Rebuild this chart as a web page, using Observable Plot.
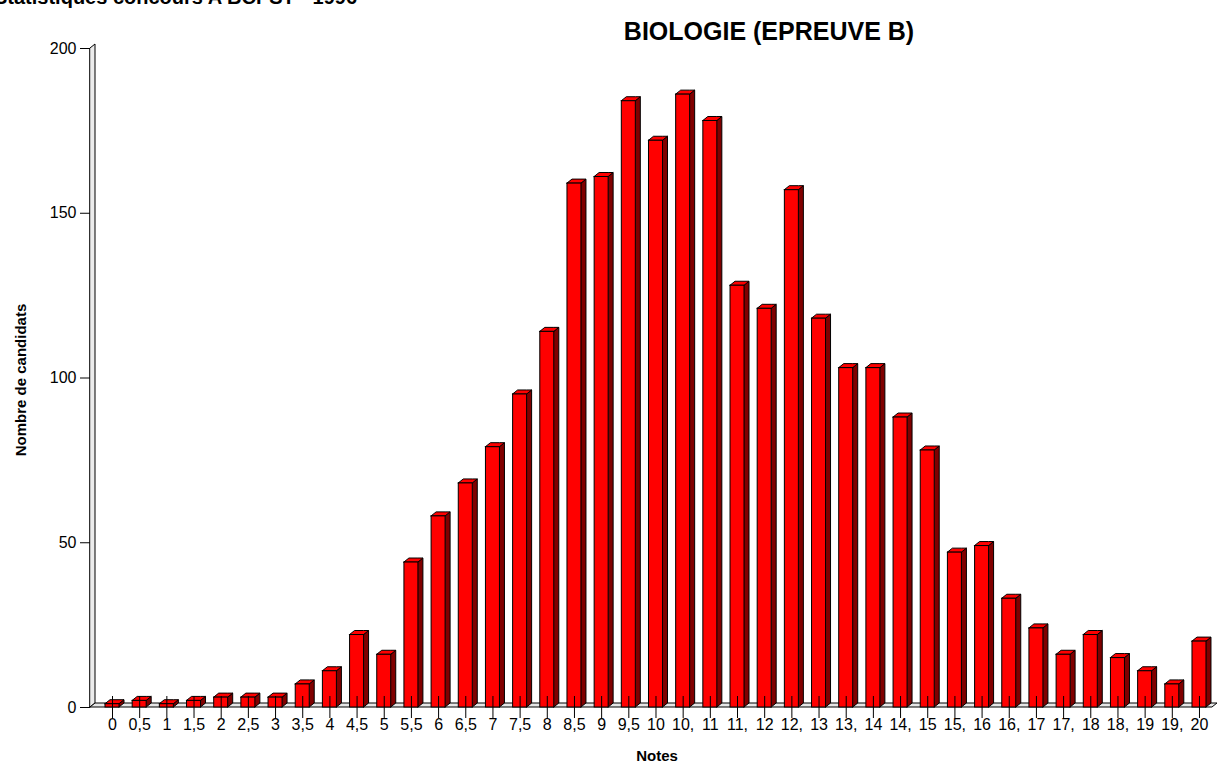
<!DOCTYPE html>
<html><head><meta charset="utf-8">
<script src="https://cdn.jsdelivr.net/npm/d3@7"></script>
<script src="https://cdn.jsdelivr.net/npm/@observablehq/plot@0.6"></script>
<style>
body{margin:0;background:#fff;font-family:"Liberation Sans",Arial,sans-serif;}
#wrap{position:relative;width:1223px;height:762px;overflow:hidden;background:#fff;}
#wrap svg{position:absolute;left:0;top:0;}
.t{position:absolute;white-space:nowrap;color:#000;line-height:1;}
#toptxt{left:-6px;top:-13px;font-size:20px;font-weight:bold;}
#title{left:769px;top:19px;transform:translateX(-50%);font-size:25px;font-weight:bold;}
#ylab{left:20px;top:380px;transform:translate(-50%,-50%) rotate(-90deg);font-size:15px;font-weight:bold;}
#xlab{left:657px;top:755px;transform:translate(-50%,-50%);font-size:15px;font-weight:bold;}
</style></head><body>
<div id="wrap">
<div class="t" id="toptxt">Statistiques concours A BCPST - 1996</div>
<div class="t" id="title">BIOLOGIE (EPREUVE B)</div>
<div class="t" id="ylab">Nombre de candidats</div>
<div class="t" id="xlab">Notes</div>
</div>
<script>
const notes = [0,0.5,1,1.5,2,2.5,3,3.5,4,4.5,5,5.5,6,6.5,7,7.5,8,8.5,9,9.5,10,10.5,11,11.5,12,12.5,13,13.5,14,14.5,15,15.5,16,16.5,17,17.5,18,18.5,19,19.5,20];
const tickLabels = ["0","0,5","1","1,5","2","2,5","3","3,5","4","4,5","5","5,5","6","6,5","7","7,5","8","8,5","9","9,5","10","10,","11","11,","12","12,","13","13,","14","14,","15","15,","16","16,","17","17,","18","18,","19","19,","20"];
const counts = [1,2,1,2,3,3,3,7,11,22,16,44,58,68,79,95,114,159,161,184,172,186,178,128,121,157,118,103,103,88,78,47,49,33,24,16,22,15,11,7,20];
const yTicks = [0,50,100,150,200];

// layout
const W = 1223, H = 762;
const mL = 90, mR = 5, mT = 48, mB = 55;
const xDom = [-0.4048, 20.35];
const yDom = [0, 200];
const kx = (W - mL - mR) / (xDom[1] - xDom[0]);
const ky = (H - mT - mB) / (yDom[1] - yDom[0]);
const hw = 7 / kx;
const dX = 5 / kx;
const dV = 4 / ky;

const bars = notes.map((n, i) => ({id: i, x: n, v: counts[i]}));
const sideFace = bars.flatMap(b => [
  {id: b.id, x: b.x + hw, y1: 0, y2: b.v},
  {id: b.id, x: b.x + hw + dX, y1: dV, y2: b.v + dV}
]);
const topFace = bars.flatMap(b => [
  {id: b.id, x: b.x - hw, y1: b.v, y2: b.v},
  {id: b.id, x: b.x - hw + dX, y1: b.v, y2: b.v + dV},
  {id: b.id, x: b.x + hw, y1: b.v, y2: b.v + dV},
  {id: b.id, x: b.x + hw + dX, y1: b.v + dV, y2: b.v + dV}
]);
const xw = xDom[0], xe = 20 + 13 / kx;
const floorFace = [
  {x: xw, y1: 0, y2: 0},
  {x: xw + dX, y1: 0, y2: dV},
  {x: xe, y1: 0, y2: dV},
  {x: xe + dX, y1: dV, y2: dV}
];
const wallFace = [
  {x: xw, y1: 0, y2: 200},
  {x: xw + dX, y1: dV, y2: 200 + dV}
];
const labelMap = new Map(notes.map((n, i) => [n, tickLabels[i]]));

const chart = Plot.plot({
  width: W, height: H,
  marginLeft: mL, marginRight: mR, marginTop: mT, marginBottom: mB,
  x: {type: "linear", domain: xDom},
  y: {domain: yDom},
  style: {fontFamily: "Liberation Sans, Arial, sans-serif", fontSize: "16px", background: "transparent", color: "#000"},
  marks: [
    Plot.areaY(wallFace, {x: "x", y1: "y1", y2: "y2", fill: "#ececec", stroke: "#000", strokeWidth: 1}),
    Plot.areaY(floorFace, {x: "x", y1: "y1", y2: "y2", fill: "#e6e6e6", stroke: "#000", strokeWidth: 1}),
    Plot.areaY(sideFace, {x: "x", y1: "y1", y2: "y2", z: "id", fill: "#800000", stroke: "#000", strokeWidth: 1}),
    Plot.areaY(topFace, {x: "x", y1: "y1", y2: "y2", z: "id", fill: "#ff0000", stroke: "#000", strokeWidth: 1}),
    Plot.rect(bars, {x1: d => d.x - hw, x2: d => d.x + hw, y1: 0, y2: "v", fill: "#ff0000", stroke: "#000", strokeWidth: 1}),
    Plot.axisY({ticks: yTicks, tickSize: 10, tickPadding: 4, fontSize: 16, label: null}),
    Plot.axisX({ticks: notes, tickFormat: d => labelMap.get(d), tickSize: 22, dy: -11, tickPadding: 0, fontSize: 16, label: null})
  ]
});
document.getElementById("wrap").prepend(chart);
</script>
</body></html>
